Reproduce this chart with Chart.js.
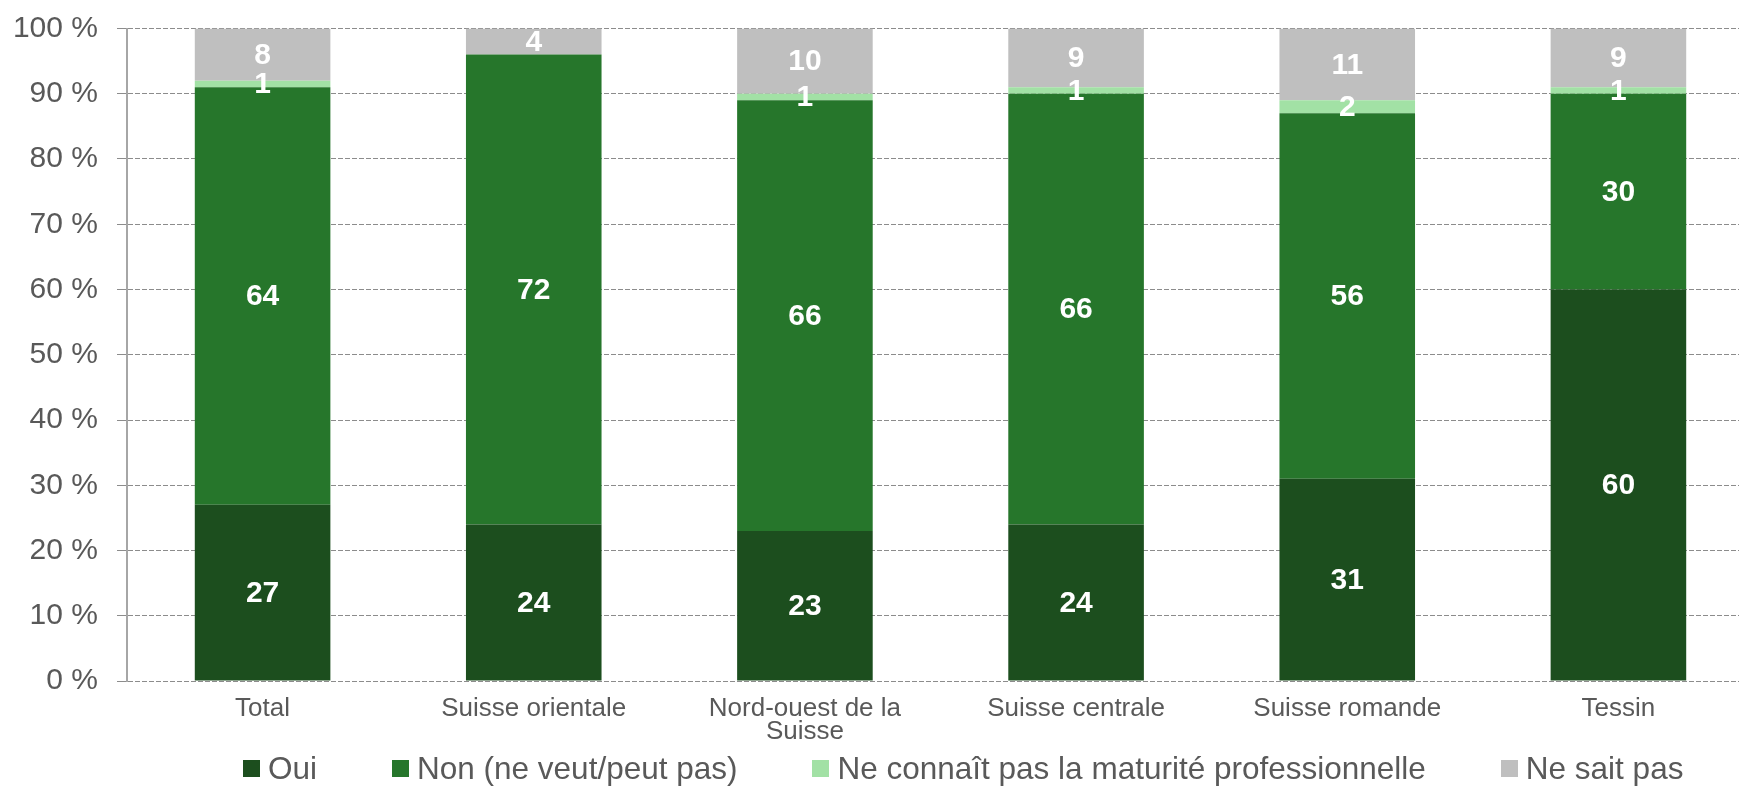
<!DOCTYPE html>
<html>
<head>
<meta charset="utf-8">
<script src="https://cdn.jsdelivr.net/npm/chart.js@4/dist/chart.umd.min.js"></script>
<style>
  html, body { margin: 0; padding: 0; background: #fff; overflow: hidden; }
  #wrap { position: relative; width: 1760px; height: 786px; }
  #legend {
    position: absolute; left: 243px; top: 748px; height: 40px;
    display: flex; align-items: center;
    font-family: 'Liberation Sans', Arial, sans-serif; font-size: 31.5px; color: #595959;
    white-space: nowrap;
  }
  #legend .item { display: flex; align-items: center; margin-right: 75px; }
  #legend .box { width: 17px; height: 17px; margin-right: 8px; }
</style>
</head>
<body>
<div id="wrap">
  <canvas id="chart"></canvas>
  <div id="legend"></div>
</div>
<script>
const regions = ["Total", "Suisse orientale", ["Nord-ouest de la", "Suisse"], "Suisse centrale", "Suisse romande", "Tessin"];
const seriesNames = ["Oui", "Non (ne veut/peut pas)", "Ne connaît pas la maturité professionnelle", "Ne sait pas"];
const oui = [27, 24, 23, 24, 31, 60];
const non = [64, 72, 66, 66, 56, 30];
const neConnaitPas = [1, 0, 1, 1, 2, 1];
const neSaitPas = [8, 4, 10, 9, 11, 9];
const yTicks = [0, 10, 20, 30, 40, 50, 60, 70, 80, 90, 100];

const colors = ["#1c4e1e", "#26762b", "#a2e1a5", "#bfbfbf"];
const font = "'Liberation Sans', Arial, sans-serif";

// valeurs en blanc au centre de chaque segment
const segmentLabels = {
  id: "segmentLabels",
  afterDatasetsDraw(chart) {
    const ctx = chart.ctx;
    ctx.save();
    ctx.fillStyle = "#ffffff";
    ctx.font = "bold 30px " + font;
    ctx.textAlign = "center";
    ctx.textBaseline = "middle";
    chart.data.datasets.forEach((ds, i) => {
      const meta = chart.getDatasetMeta(i);
      meta.data.forEach((bar, j) => {
        const v = ds.data[j];
        if (!v) return;
        ctx.fillText(String(v), bar.x, (bar.y + bar.base) / 2 + 1);
      });
    });
    ctx.restore();
  }
};

new Chart(document.getElementById("chart"), {
  type: "bar",
  data: {
    labels: regions,
    datasets: [oui, non, neConnaitPas, neSaitPas].map((d, i) => ({
      label: seriesNames[i],
      data: d,
      backgroundColor: colors[i],
      borderWidth: 0,
      categoryPercentage: 1.0,
      barPercentage: 0.5
    }))
  },
  options: {
    responsive: true,
    maintainAspectRatio: false,
    animation: false,
    layout: { padding: { left: 0, right: 6, top: 28.5, bottom: 0 } },
    scales: {
      x: {
        stacked: true,
        grid: { display: false, drawTicks: false },
        border: { display: false },
        afterFit(scale) { scale.height = 105; },
        ticks: {
          color: "#595959",
          padding: 16,
          maxRotation: 0,
          autoSkip: false,
          font: { family: font, size: 26, lineHeight: 0.9 }
        }
      },
      y: {
        stacked: true,
        min: 0,
        max: 100,
        afterBuildTicks(scale) { scale.ticks = yTicks.map(v => ({ value: v })); },
        afterFit(scale) {
          scale.width = 127;
          scale.paddingTop = 0;
          scale.paddingBottom = 0;
        },
        grid: { color: "#8c8c8c", lineWidth: 1, tickLength: 10, tickColor: "#8c8c8c" },
        border: { display: true, color: "#a6a6a6", width: 2, dash: [5, 2] },
        ticks: {
          color: "#595959",
          padding: 19,
          font: { family: font, size: 30 },
          callback: v => v + " %"
        }
      }
    },
    plugins: {
      tooltip: { enabled: false },
      legend: { display: false }
    }
  },
  plugins: [segmentLabels]
});

// légende en bas
const legendEl = document.getElementById("legend");
seriesNames.forEach((name, i) => {
  const item = document.createElement("div");
  item.className = "item";
  const box = document.createElement("span");
  box.className = "box";
  box.style.background = colors[i];
  const txt = document.createElement("span");
  txt.textContent = name;
  item.appendChild(box);
  item.appendChild(txt);
  legendEl.appendChild(item);
});
</script>
</body>
</html>
